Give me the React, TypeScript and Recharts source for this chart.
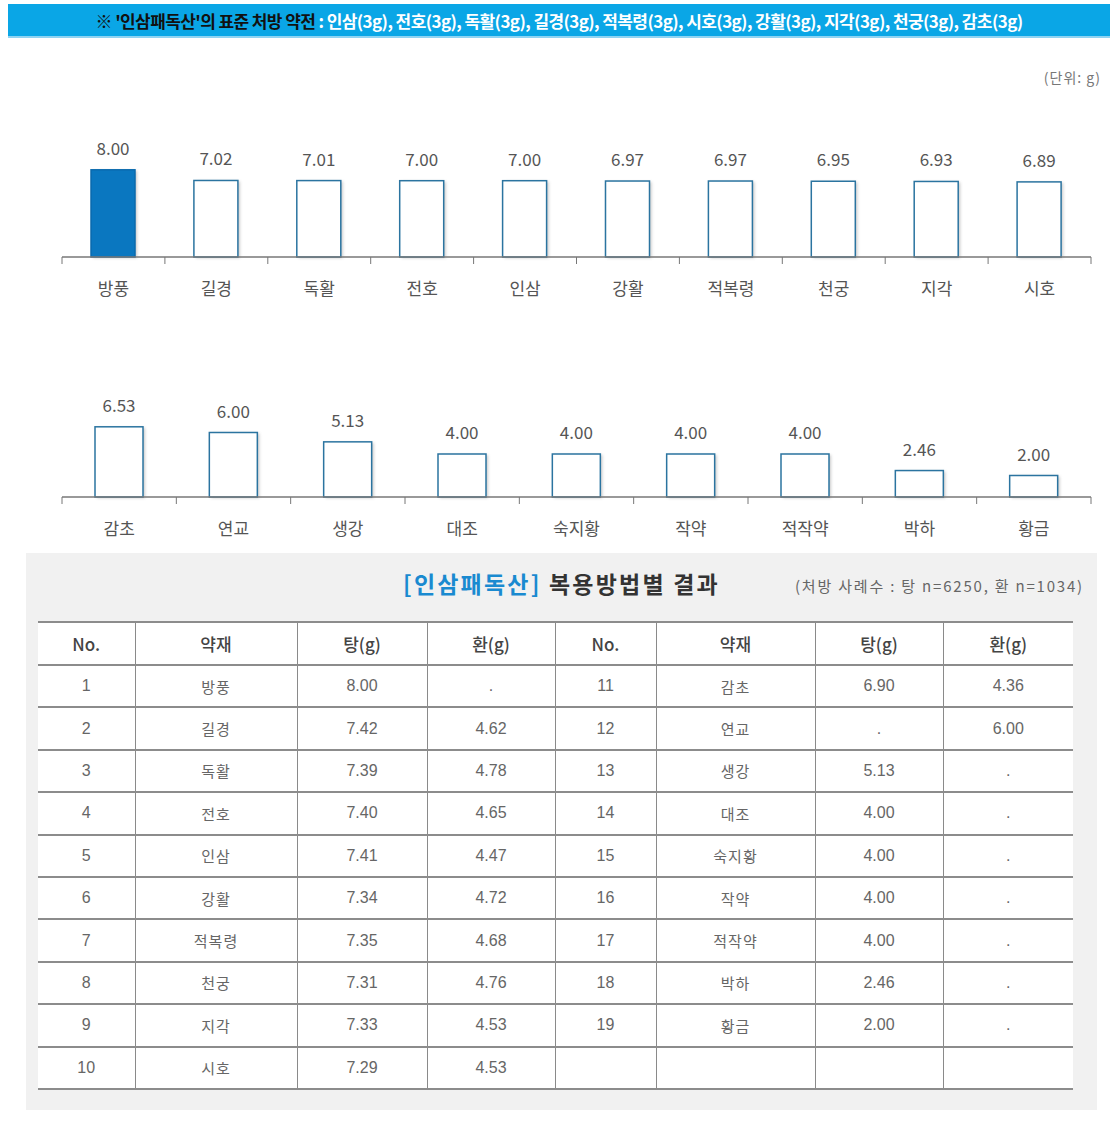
import { Bar, BarChart, Cell, LabelList, XAxis, YAxis } from "recharts";

const FONT = '"Noto Sans CJK KR", "Noto Sans", sans-serif';

const topHerbs = ["방풍", "길경", "독활", "전호", "인삼", "강활", "적복령", "천궁", "지각", "시호"];
const topValues = [8.0, 7.02, 7.01, 7.0, 7.0, 6.97, 6.97, 6.95, 6.93, 6.89];

const bottomHerbs = ["감초", "연교", "생강", "대조", "숙지황", "작약", "적작약", "박하", "황금"];
const bottomValues = [6.53, 6.0, 5.13, 4.0, 4.0, 4.0, 4.0, 2.46, 2.0];

const tableHerbs = [
  "방풍", "길경", "독활", "전호", "인삼", "강활", "적복령", "천궁", "지각", "시호",
  "감초", "연교", "생강", "대조", "숙지황", "작약", "적작약", "박하", "황금",
];
const tangValues: (number | null)[] = [
  8.0, 7.42, 7.39, 7.4, 7.41, 7.34, 7.35, 7.31, 7.33, 7.29,
  6.9, null, 5.13, 4.0, 4.0, 4.0, 4.0, 2.46, 2.0,
];
const hwanValues: (number | null)[] = [
  null, 4.62, 4.78, 4.65, 4.47, 4.72, 4.68, 4.76, 4.53, 4.53,
  4.36, 6.0, null, null, null, null, null, null, null,
];

const tableHeaders = ["No.", "약재", "탕(g)", "환(g)"];
const colWidths = [97, 162, 130, 128, 101, 159, 128, 130];

const CHART_W = 1112;
const MARGIN_L = 62;
const MARGIN_R = 21;

function ShadowBar(props: any) {
  const { x, y, width, height, fill, stroke } = props;
  if (height <= 0) return null;
  return (
    <g>
      <rect x={x + 2} y={y + 1} width={width} height={height} fill="#8a8a8a" opacity={0.45} filter="url(#barBlur)" />
      <rect x={x} y={y} width={width} height={height} fill={fill} stroke={stroke} strokeWidth={1.5} />
    </g>
  );
}

function makeTick(count: number) {
  const band = (CHART_W - MARGIN_L - MARGIN_R) / count;
  return function Tick(props: any) {
    const { x, y, payload, index } = props;
    return (
      <g>
        <line x1={x - band / 2} x2={x - band / 2} y1={y} y2={y + 7} stroke="#777" strokeWidth={1} />
        {index === count - 1 && (
          <line x1={x + band / 2} x2={x + band / 2} y1={y} y2={y + 7} stroke="#777" strokeWidth={1} />
        )}
        <text x={x} y={y + 33} textAnchor="middle" dominantBaseline="middle" fontSize={17} fill="#555" fontFamily={FONT}>
          {payload.value}
        </text>
      </g>
    );
  };
}

function HerbChart({ names, values, top, marginTop, barSize, highlightFirst }: { names: string[]; values: number[]; top: number; marginTop: number; barSize: number; highlightFirst: boolean }) {
  const data = names.map((name, i) => ({ name, value: values[i] }));
  return (
    <div style={{ position: "absolute", left: 0, top }}>
      <BarChart width={CHART_W} height={200} data={data} margin={{ top: marginTop, right: MARGIN_R, bottom: 3, left: MARGIN_L }}>
        <defs>
          <filter id="barBlur" x="-20%" y="-20%" width="140%" height="140%">
            <feGaussianBlur stdDeviation="1.5" />
          </filter>
        </defs>
        <XAxis
          dataKey="name"
          height={40}
          tickSize={0}
          tickMargin={0}
          axisLine={{ stroke: "#777", strokeWidth: 1.5 }}
          tick={makeTick(names.length)}
          interval={0}
        />
        <YAxis hide domain={[0, 10]} />
        <Bar dataKey="value" barSize={barSize} isAnimationActive={false} shape={<ShadowBar />}>
          {data.map((d, i) => {
            const hi = highlightFirst && i === 0;
            return <Cell key={d.name} fill={hi ? "#0a77c0" : "#ffffff"} stroke={hi ? "#0a6aad" : "#2b74a0"} />;
          })}
          <LabelList
            dataKey="value"
            position="top"
            offset={15}
            fill="#555"
            fontSize={17}
            fontFamily={FONT}
            formatter={(v: any) => Number(v).toFixed(2)}
          />
        </Bar>
      </BarChart>
    </div>
  );
}

function fmt(v: number | null | undefined) {
  return v == null ? "." : v.toFixed(2);
}

function ResultTable() {
  const rows = Array.from({ length: 10 }, (_, i) => i);
  const cell = (last: boolean): React.CSSProperties => ({
    borderRight: last ? "none" : "1px solid #8a8a8a",
    borderBottom: "2px solid #8c8c8c",
    textAlign: "center",
    padding: 0,
  });
  const numStyle: React.CSSProperties = { fontFamily: '"Liberation Sans", Arial, sans-serif', fontSize: 16, color: "#666" };
  const korStyle: React.CSSProperties = { fontFamily: FONT, fontSize: 15, color: "#666", letterSpacing: 1 };
  return (
    <table
      style={{
        position: "absolute",
        left: 38,
        top: 621,
        width: 1035,
        height: 467,
        borderCollapse: "collapse",
        tableLayout: "fixed",
        background: "#fff",
        borderTop: "2px solid #8c8c8c",
      }}
    >
      <colgroup>
        {colWidths.map((w, i) => (
          <col key={i} style={{ width: w }} />
        ))}
      </colgroup>
      <thead>
        <tr style={{ height: 43 }}>
          {[...tableHeaders, ...tableHeaders].map((h, i) => (
            <th key={i} style={{ ...cell(i === 7), fontFamily: FONT, fontSize: 17, fontWeight: 500, color: "#444" }}>
              {h}
            </th>
          ))}
        </tr>
      </thead>
      <tbody>
        {rows.map((r) => {
          const j = r + 10;
          const hasRight = j < tableHerbs.length;
          return (
            <tr key={r} style={{ height: 42.4 }}>
              <td style={{ ...cell(false), ...numStyle }}>{r + 1}</td>
              <td style={{ ...cell(false), ...korStyle }}>{tableHerbs[r]}</td>
              <td style={{ ...cell(false), ...numStyle }}>{fmt(tangValues[r])}</td>
              <td style={{ ...cell(false), ...numStyle }}>{fmt(hwanValues[r])}</td>
              <td style={{ ...cell(false), ...numStyle }}>{hasRight ? j + 1 : ""}</td>
              <td style={{ ...cell(false), ...korStyle }}>{hasRight ? tableHerbs[j] : ""}</td>
              <td style={{ ...cell(false), ...numStyle }}>{hasRight ? fmt(tangValues[j]) : ""}</td>
              <td style={{ ...cell(true), ...numStyle }}>{hasRight ? fmt(hwanValues[j]) : ""}</td>
            </tr>
          );
        })}
      </tbody>
    </table>
  );
}

export default function App() {
  return (
    <div style={{ position: "absolute", left: 0, top: 0, width: 1112, height: 1126, background: "#fff", fontFamily: FONT, overflow: "hidden" }}>
      <div
        style={{
          position: "absolute",
          left: 8,
          top: 4,
          width: 1102,
          height: 32,
          background: "#0aa6e6",
          borderBottom: "2px solid #8fd3f2",
          display: "flex",
          alignItems: "center",
          justifyContent: "center",
          fontSize: 17,
          fontWeight: 700,
          letterSpacing: -0.6,
          whiteSpace: "nowrap",
        }}
      >
        <span style={{ color: "#111" }}>※ '인삼패독산'의 표준 처방 약전</span>
        <span style={{ color: "#fff" }}>&nbsp;: 인삼(3g), 전호(3g), 독활(3g), 길경(3g), 적복령(3g), 시호(3g), 강활(3g), 지각(3g), 천궁(3g), 감초(3g)</span>
      </div>

      <div style={{ position: "absolute", right: 11, top: 67, fontSize: 14, color: "#777", letterSpacing: 1 }}>(단위: g)</div>

      <HerbChart names={topHerbs} values={topValues} top={100} marginTop={48} barSize={44} highlightFirst />
      <HerbChart names={bottomHerbs} values={bottomValues} top={340} marginTop={49.5} barSize={48} highlightFirst={false} />

      <div style={{ position: "absolute", left: 26, top: 553, width: 1071, height: 557, background: "#f1f1f1" }} />
      <div style={{ position: "absolute", left: 26, top: 553, width: 1071, height: 56 }}>
        <div style={{ position: "absolute", left: 377, top: 13, fontSize: 23, fontWeight: 700, color: "#333", whiteSpace: "nowrap", letterSpacing: 2.2 }}>
          <span style={{ color: "#1a8ad0" }}>[인삼패독산]</span> 복용방법별 결과
        </div>
        <div style={{ position: "absolute", left: 769, top: 22, fontSize: 15, color: "#666", whiteSpace: "nowrap", letterSpacing: 1.8 }}>
          (처방 사례수 : 탕 n=6250, 환 n=1034)
        </div>
      </div>

      <ResultTable />
    </div>
  );
}
